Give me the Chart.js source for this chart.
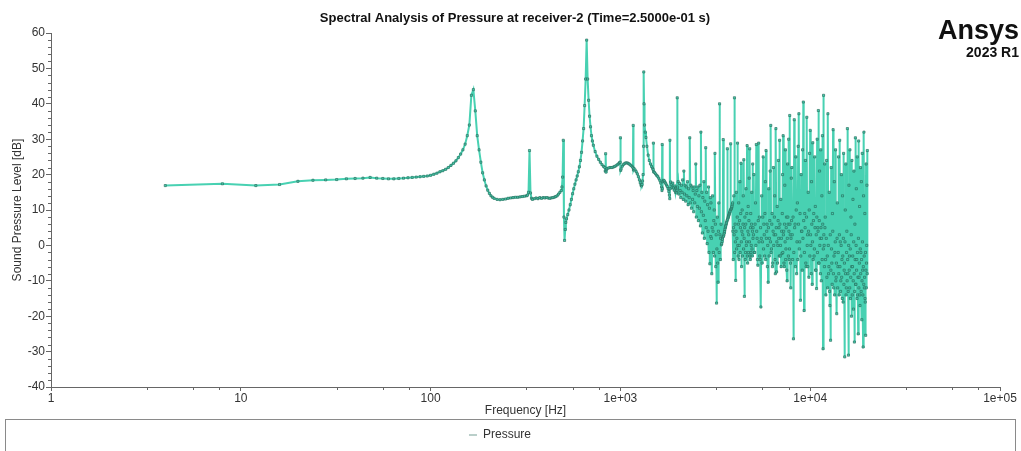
<!DOCTYPE html>
<html>
<head>
<meta charset="utf-8">
<title>Spectral Analysis of Pressure at receiver-2</title>
<script src="https://cdn.jsdelivr.net/npm/chart.js"></script>
<style>
  html, body { margin: 0; padding: 0; background: #fff; }
</style>
</head>
<body>
<canvas id="spectrum" width="1021" height="451"></canvas>
<script>
// low/mid part of the spectrum, read point by point (Hz, dB)
const lowFreq = [4, 8, 12, 16, 20, 24, 28, 32, 36, 40, 44, 48, 52, 56, 60, 64, 68, 72, 76, 80, 84, 88, 92, 96,
  100, 104, 108, 112, 116, 120, 124, 128, 132, 136, 140, 144, 148, 152, 156, 160, 164, 168, 172, 176, 180, 184,
  188, 192, 196, 200, 204, 208, 212, 216, 224, 232, 240, 248, 256, 264, 272, 280, 288, 296, 304, 312, 320, 324,
  328, 332, 336, 340, 344, 352, 360, 368, 376, 384, 392, 400, 408, 416, 424, 432, 440, 448, 456, 464, 472, 480,
  488, 492, 496, 500, 504, 508, 512, 516, 520, 528, 536, 544, 552, 560, 568, 576, 584, 592, 600, 608, 616, 624,
  632, 640, 648, 656, 664, 672, 680, 688, 696, 704, 712, 720, 736, 752, 768, 784, 800, 816, 828, 832, 836, 840,
  844, 852, 868, 884, 900, 916, 932, 948, 964, 980, 992, 996, 1000, 1004, 1008, 1024, 1040, 1056, 1072, 1088,
  1104, 1120, 1136, 1152, 1164, 1168, 1172, 1180, 1196, 1212, 1228, 1244, 1260, 1272, 1284, 1292, 1300, 1308,
  1316, 1324, 1328, 1332, 1340, 1352, 1364, 1380, 1400, 1420, 1440, 1460, 1476, 1488, 1492, 1496, 1512, 1532,
  1552, 1572, 1592, 1612, 1632, 1648, 1656, 1660, 1664, 1672, 1688, 1704, 1720, 1736, 1752, 1768, 1784, 1800,
  1812, 1820, 1824, 1828, 1840, 1856, 1872, 1888, 1904, 1920, 1936, 1952, 1968, 1980, 1988, 1992, 1996];
const lowSpl = [16.9, 17.4, 16.9, 17.2, 18.1, 18.4, 18.5, 18.6, 18.8, 18.9, 19.0, 19.2, 19.0, 18.9, 18.8, 18.8,
  18.9, 19.0, 19.1, 19.2, 19.3, 19.4, 19.5, 19.6, 19.8, 20.1, 20.4, 20.8, 21.1, 21.5, 22.0, 22.6, 23.2, 23.9,
  24.8, 25.8, 27.0, 28.6, 31.0, 34.0, 42.4, 44.0, 38.0, 31.0, 27.0, 23.5, 20.5, 18.5, 16.8, 15.6, 14.7, 14.0,
  13.6, 13.3, 13.0, 12.9, 13.0, 13.1, 13.3, 13.4, 13.5, 13.6, 13.6, 13.7, 13.8, 13.9, 14.0, 14.2, 15.0, 26.8,
  14.8, 13.3, 13.0, 13.2, 13.4, 13.2, 13.5, 13.3, 13.5, 13.4, 13.5, 13.4, 13.3, 13.4, 13.5, 13.6, 13.8, 14.0,
  14.5, 15.0, 15.5, 16.5, 19.3, 29.7, 8.0, 1.4, 4.5, 6.5, 7.5, 8.7, 10.0, 11.5, 13.0, 14.6, 16.0, 17.3, 18.5,
  19.6, 20.8, 22.2, 24.0, 26.3, 29.5, 33.0, 39.5, 47.0, 58.0, 47.0, 41.0, 36.5, 33.5, 31.0, 29.5, 28.3, 26.5,
  25.2, 24.3, 23.5, 22.8, 22.3, 22.0, 21.0, 25.9, 20.7, 21.4, 21.7, 21.9, 22.0, 22.0, 22.1, 22.3, 22.5, 22.8,
  23.1, 23.4, 23.5, 30.4, 21.2, 21.6, 22.4, 22.9, 23.2, 23.3, 23.3, 23.1, 22.9, 22.6, 22.3, 22.0, 33.9, 21.3,
  21.7, 21.3, 20.8, 20.2, 19.4, 18.5, 17.7, 17.0, 16.8, 17.2, 18.2, 20.0, 28.0, 49.0, 40.0, 34.0, 32.0, 30.5,
  28.0, 25.5, 24.0, 23.0, 22.3, 21.8, 21.4, 28.9, 20.8, 20.6, 20.2, 19.8, 19.5, 19.0, 18.4, 17.6, 16.5, 15.5,
  28.5, 16.0, 18.0, 18.4, 18.2, 17.8, 17.4, 17.0, 16.6, 16.0, 15.2, 14.2, 13.2, 29.7, 16.0, 17.9, 17.2, 16.4,
  17.6, 16.2, 15.6, 16.8, 15.0, 16.2, 14.8, 15.5, 41.7, 16.0];

// noisy upper part: FFT bins given as start frequency + bin step (Hz), levels in dB
const band1Start = 2000, band1Step = 16;
const band1Spl = [16.5, 18.0, 14.5, 17.5, 15.5, 13.5, 17.0, 15.0, 18.5, 13.0, 21.0, 14.5, 17.0, 12.5, 16.5, 14.0,
  18.0, 11.5, 16.0, 13.5, 30.4, 12.0, 17.0, 10.5, 16.5, 13.0, 15.5, 9.5, 16.5, 12.0, 14.5, 23.0, 8.0, 15.5, 11.0,
  16.5, 7.0, 14.0, 10.5, 17.0, 5.5, 32.0, 9.5, 15.0, 3.5, 13.5, 8.5, 18.0, 2.0, 12.5, 7.0, 27.6, 5.0, 15.0, 0.5,
  11.5, 4.0, 16.5, -2.0, 10.5, -5.2, 13.5, 2.5];
const band2Start = 3000, band2Step = 15;
const band2Spl = [12, 2, -8, 5, 14, 4, -2, 7, 10, -3, 26, 6, -6, 3, -16.3, -1, 8, -5, -10.4, 4, 12, -2, 40, 3,
  -4, 2, 6, 0.2, 0.5, 1.1, 1.8, 2.4, 29.9, 2.6, 3.0, 3.5, 4.0, 4.5, 5.0, 5.4, 5.8, 6.2, 6.6, 7.0, 27.3, 7.4,
  7.8, 8.1, 8.4, 8.7, 9.0, 9.3, 9.6, 10.0, 28.7, 10.2, 10.4, 10.7, 11.0, 11.5, 12.0, 4, -4, 5, 14, 3, 41.7, -2,
  6, 1, -9.9, 4, 15, -1, 2, 8, 28.9, 0, -3, 6, 12, -4, 0, 7, 18, -2, 5, 9, 23.2, 1, -6, 4, 10, -3, 3, 6, 14, -1,
  24.2, 2, -14.4, 5, 8, -4, -2, 6, 16, 0, 1, 9, 28.2, -3, -5, 4, 11, -2, 3, 7, 19, 1, 27.3, -3, -4, 5, 9, -2, 0,
  6, 15, -1, -3, 4, 23, 2];
const band3Start = 5000, band3Step = 25;
const band3Spl = [5, 3, 20, -2, -2, 6, 12, 0, 28.5, 4, 2, -4, -5.6, 7, 28.9, 1, 8, -3, -4, 5, -17.4, 2, 14, -5,
  1, 8, 25, -1, 6, 3, -3, 9, 18, -4, 26.8, 2, 4, 6, -6, 0, -10.4, 5, 16, -3, 2, 7, 21, 1, 33.9, -2, -1, 6, 9,
  -6, -5, 4, 22, 0, 3, 8, 14, -4, -8, 3, 33, 5, -7.5, 1, 11, -5, 0, 7, 24, 2, 5, -3, 29.7, 6, -3, 0, 13, -6, 2,
  4, -2.3, 9, 20, -2, 31, 3, 4, -5, -6, 6, 17, 1, 27, -4, -1, 5, 8, -7, -10, 2, 23, 8, 6, -3, 30, 4, -4, -1,
  36.7, 6, 3, -5, -12, 2, 19, 7];
const band4Start = 8000, band4Step = 40;
const band4Spl = [22, 3, -4, 8, -26.4, -2, 35.5, 5, 6, -6, 25, 10, -8, 1, 12, -4, 28, 6, 37.2, -1, 1, 9, -15.5,
  -3, 20, 4, 4, -7, 27, 2, 40.5, 7, -18.4, -2, 9, 5, 24, -5, -6, 8, 36.2, 0, 3, -6, 15, 4, -9, 10, 26, -3, 32.5,
  3, 0, -8, 18, 6, -11, 1, 29, -4, 7, 9, -3, -1, 25, 5, 11, -7, -7, 3, -12.2, 8, 30, -2, 5, 4, 38.1, -5, -5, 7,
  21, 0, 2, -8, 27, 5, -10, 2, 14, -4, 31, 6, -29.2, -1, 42.4, 3, 0, -6, 23, 5];
const band5Start = 12000, band5Step = 50;
const band5Spl = [8, -4, -14, 2, 24, -9, -3, -12, 37.2, 0, -8, -6, 15, -13, -17, 3, -26.8, -7, 22, -1, -5, -11,
  9, 4, 32.7, -8, -12, -3, 18, -14, -2, 1, 27, -10, -9, -5, -19.3, 2, 12, -12, -6, -2, 25, -8, -14, 3, 29.7, -6,
  1, -13, -10, 0, 20, -9, -4, -15, 14, -3, -16, 2, 26, -11, -7, -5, -31.5, 1, 10, -8, 23, -14, -12, -2, 4, -10,
  33, -4, -8, -13, -31, 0, 17, -7, -3, -12, 27, -1, -15, -9, 8, 3, -20, -6, 24, -14, -6, -3, 13, -10, -18, 1,
  21, -8, -27.3, -13, 6, -4, 30.4, -11, -11, 0, 16, -7, -4, -15, 25, -2, -14, -9, -25, 2, 29.5, -12, -9, -5, 11,
  -14, -17, -1, 22, -8, -2, -13, 18, -4, -21, -10, 26, 1, -7, -14, -28.7, -6, 14, -11, 32, -3, -12, -9, 9, -15,
  -16, -2, -25.4, -7, 23, -12, -5, 0, 17, -8, 26.8];

const xTickValues = [1, 10, 100, 1000, 10000, 100000];
const xTickLabels = ['1', '10', '100', '1e+03', '1e+04', '1e+05'];
const xMinorMarks = [3.2, 5.6, 7.7];

const points = lowFreq.map((f, i) => ({ x: f, y: lowSpl[i] }));
[[band1Start, band1Step, band1Spl], [band2Start, band2Step, band2Spl], [band3Start, band3Step, band3Spl],
 [band4Start, band4Step, band4Spl], [band5Start, band5Step, band5Spl]].forEach(([start, step, spl]) => {
  spl.forEach((v, i) => points.push({ x: start + i * step, y: v }));
});

const teal = 'rgb(72,209,178)';
Chart.defaults.font.family = '"Liberation Sans", Arial, sans-serif';
Chart.defaults.font.size = 12;
Chart.defaults.color = '#333';

// title, logo, minor ticks and the legend frame
const decorations = {
  id: 'decorations',
  beforeDraw(chart) {
    const ctx = chart.ctx;
    ctx.save();
    ctx.fillStyle = '#fff';
    ctx.fillRect(0, 0, chart.width, chart.height);
    ctx.restore();
  },
  afterDraw(chart) {
    const ctx = chart.ctx;
    const xs = chart.scales.x, ys = chart.scales.y;
    ctx.save();
    ctx.strokeStyle = '#666';
    ctx.lineWidth = 1;
    ctx.beginPath();
    for (let v = -40; v <= 60; v += 2) {
      if (v % 10 === 0) continue;
      const py = Math.round(ys.getPixelForValue(v)) + 0.5;
      ctx.moveTo(ys.right - 3, py);
      ctx.lineTo(ys.right, py);
    }
    for (let d = 0; d < 5; d++) {
      xMinorMarks.forEach(m => {
        const px = Math.round(xs.getPixelForValue(m * Math.pow(10, d))) + 0.5;
        ctx.moveTo(px, xs.top);
        ctx.lineTo(px, xs.top + 3);
      });
    }
    ctx.stroke();

    // legend frame
    const lg = chart.legend;
    ctx.strokeStyle = '#8a8a8a';
    ctx.strokeRect(5.5, lg.top + 0.5, 1010, 40);

    ctx.fillStyle = '#111';
    ctx.textBaseline = 'alphabetic';
    ctx.textAlign = 'center';
    ctx.font = 'bold 13px "Liberation Sans", Arial, sans-serif';
    ctx.fillText('Spectral Analysis of Pressure at receiver-2 (Time=2.5000e-01 s)', 515, 22);

    ctx.textAlign = 'right';
    ctx.font = 'bold 27px "Liberation Sans", Arial, sans-serif';
    ctx.fillText('Ansys', 1019, 39);
    ctx.font = 'bold 14px "Liberation Sans", Arial, sans-serif';
    ctx.fillText('2023 R1', 1019, 57);
    ctx.restore();
  }
};

new Chart(document.getElementById('spectrum'), {
  type: 'line',
  data: {
    datasets: [{
      label: 'Pressure',
      data: points,
      borderColor: teal,
      backgroundColor: teal,
      borderWidth: 2,
      pointStyle: 'rect',
      pointRadius: 1.5,
      pointBackgroundColor: teal,
      pointBorderColor: 'rgba(40,105,90,0.8)',
      pointBorderWidth: 0.8,
      tension: 0,
      fill: false
    }]
  },
  options: {
    responsive: false,
    animation: false,
    layout: { padding: { top: 33, right: 21, left: 0, bottom: 0 } },
    scales: {
      x: {
        type: 'logarithmic',
        min: 1,
        max: 100000,
        afterFit(s) { s.height = 32; },
        afterBuildTicks(s) { s.ticks = xTickValues.map(v => ({ value: v })); },
        ticks: {
          autoSkip: false,
          maxRotation: 0,
          padding: 0,
          color: '#333',
          callback: (v) => xTickLabels[xTickValues.indexOf(v)]
        },
        grid: { drawOnChartArea: false, drawTicks: true, tickLength: 4, color: '#666' },
        border: { color: '#666' },
        title: { display: true, text: 'Frequency [Hz]', color: '#333', padding: { top: 0, bottom: 1 } }
      },
      y: {
        min: -40,
        max: 60,
        afterFit(s) { s.width = 51; },
        ticks: { stepSize: 10, padding: 1, color: '#333' },
        grid: { drawOnChartArea: false, drawTicks: true, tickLength: 5, color: '#666' },
        border: { color: '#666' },
        title: { display: true, text: 'Sound Pressure Level [dB]', color: '#333', padding: { top: 10, bottom: 0 } }
      }
    },
    plugins: {
      legend: {
        position: 'bottom',
        labels: {
          usePointStyle: true,
          pointStyle: 'line',
          pointStyleWidth: 8,
          boxHeight: 8,
          padding: 10,
          color: '#333',
          font: { size: 12 }
        }
      },
      tooltip: { enabled: false }
    }
  },
  plugins: [decorations]
});
</script>
</body>
</html>
